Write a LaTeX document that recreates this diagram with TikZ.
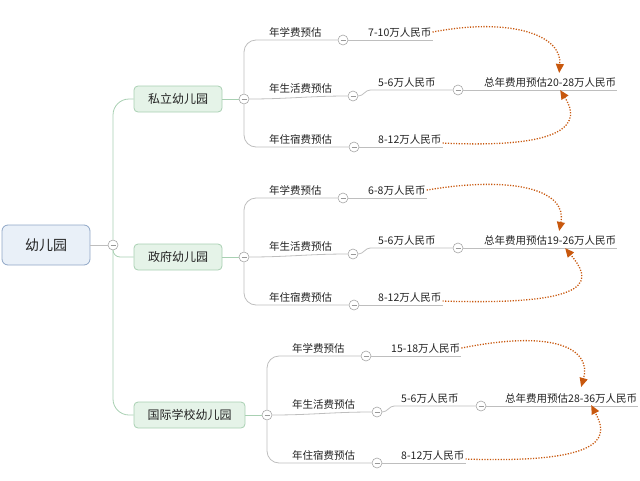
\documentclass[tikz,border=0pt]{standalone}
\usepackage{fontspec}
\setmainfont{Noto Sans CJK SC}
\usetikzlibrary{arrows.meta,positioning}
\definecolor{RootFill}{RGB}{233,240,248}
\definecolor{RootLine}{RGB}{143,166,198}
\definecolor{BranchFill}{RGB}{229,243,232}
\definecolor{BranchLine}{RGB}{168,208,178}
\definecolor{TwigGray}{RGB}{190,190,190}
\definecolor{LinkOrange}{RGB}{200,88,14}
\definecolor{TextGray}{RGB}{34,34,34}

\tikzset{
  rootbox/.style={draw=RootLine, fill=RootFill, rounded corners=6pt, line width=0.8pt,
    minimum width=88pt, minimum height=40pt, font=\fontsize{14}{16}\selectfont, text=TextGray},
  branchbox/.style={draw=BranchLine, fill=BranchFill, rounded corners=4pt, line width=0.8pt,
    minimum height=26pt, font=\fontsize{12}{14}\selectfont, text=TextGray},
  toggle/.style={circle, draw=gray!70, fill=white, inner sep=0pt, minimum size=10pt, line width=0.6pt,
    path picture={\draw[gray!80, line width=0.7pt]
      ([xshift=-2.5pt]path picture bounding box.center) -- ([xshift=2.5pt]path picture bounding box.center);}},
  leaf/.style={anchor=base west, inner sep=1pt, font=\fontsize{10.5}{12}\selectfont, text=TextGray},
  stem/.style={draw=BranchLine, line width=0.8pt, rounded corners=16pt},
  twig/.style={draw=TwigGray, line width=0.8pt, rounded corners=12pt},
  sumlink/.style={LinkOrange, line width=1.3pt, dash pattern=on 1.2pt off 1.5pt,
    -{Triangle[length=9pt,width=8pt]}}
}

\begin{document}
\begin{tikzpicture}[x=1pt, y=-1pt]
  \useasboundingbox (0,0) rectangle (640,480);

  % Root and first level
  \node[rootbox] (root) at (46,245) {幼儿园};
  \node[toggle] (t0) at (113,245) {};
  \draw[twig] (root.east) -- (t0.west);

  \node[branchbox, minimum width=88pt] (b1) at (178,99) {私立幼儿园};
  \node[branchbox, minimum width=88pt] (b2) at (178,257) {政府幼儿园};
  \node[branchbox, minimum width=111pt] (b3) at (189.5,415) {国际学校幼儿园};

  \draw[stem] (b1.west) -| (t0.north);
  \draw[stem, rounded corners=7pt] (t0.south) |- (b2.west);
  \draw[stem] (t0.south) |- (b3.west);

  % Private kindergarten
  \begin{scope}
    \node[toggle] (g1) at (244,99) {};
    \draw[stem, sharp corners] (b1.east) -- (g1.west);
    \node[leaf] (k11) at (268,36) {年学费预估};
    \node[leaf] (k12) at (268,92) {年生活费预估};
    \node[leaf] (k13) at (268,143) {年住宿费预估};
    \node[toggle] (p11) at (343,40) {};
    \node[toggle] (p12) at (353,96) {};
    \node[toggle] (p13) at (354,147) {};
    \node[leaf] (v11) at (367,36) {7-10万人民币};
    \node[leaf] (v12) at (377,86) {5-6万人民币};
    \node[leaf] (v13) at (377,143) {8-12万人民币};
    \node[toggle] (q12) at (458,90) {};
    \node[leaf] (s1) at (483,86) {总年费用预估20-28万人民币};

    \draw[twig] (g1.north) |- (p11.west);
    \draw[twig, sharp corners] (g1.east) to[out=0,in=180] (p12.west);
    \draw[twig] (g1.south) |- (p13.west);
    \draw[twig] (p11.east) -- (p11.east -| v11.east);
    \draw[twig, sharp corners] (p12.east) to[out=0,in=180] ++(12,-6) -- (q12.west);
    \draw[twig] (q12.east) -- (q12.east -| s1.east);
    \draw[twig] (p13.east) -- (p13.east -| v13.east);

    \draw[sumlink] (v11.east) .. controls +(78,-15) and +(3,-38) .. ([xshift=9pt,yshift=3pt]s1.north);
    \draw[sumlink] ([yshift=-4pt]v13.east) .. controls +(148,7) and +(14,22) .. ([xshift=10pt,yshift=-2pt]s1.south);
  \end{scope}

  % Government kindergarten
  \begin{scope}[shift={(0,158)}]
    \node[toggle] (g2) at (244,99) {};
    \draw[stem, sharp corners] (b2.east) -- (g2.west);
    \node[leaf] (k21) at (268,36) {年学费预估};
    \node[leaf] (k22) at (268,92) {年生活费预估};
    \node[leaf] (k23) at (268,143) {年住宿费预估};
    \node[toggle] (p21) at (343,40) {};
    \node[toggle] (p22) at (353,96) {};
    \node[toggle] (p23) at (354,147) {};
    \node[leaf] (v21) at (367,36) {6-8万人民币};
    \node[leaf] (v22) at (377,86) {5-6万人民币};
    \node[leaf] (v23) at (377,143) {8-12万人民币};
    \node[toggle] (q22) at (458,90) {};
    \node[leaf] (s2) at (483,86) {总年费用预估19-26万人民币};

    \draw[twig] (g2.north) |- (p21.west);
    \draw[twig, sharp corners] (g2.east) to[out=0,in=180] (p22.west);
    \draw[twig] (g2.south) |- (p23.west);
    \draw[twig] (p21.east) -- (p21.east -| v21.east);
    \draw[twig, sharp corners] (p22.east) to[out=0,in=180] ++(12,-6) -- (q22.west);
    \draw[twig] (q22.east) -- (q22.east -| s2.east);
    \draw[twig] (p23.east) -- (p23.east -| v23.east);

    \draw[sumlink] (v21.east) .. controls +(90,-15) and +(8,-40) .. ([xshift=9pt,yshift=3pt]s2.north);
    \draw[sumlink] ([yshift=-4pt]v23.east) .. controls +(160,5) and +(25,30) .. ([xshift=15pt,yshift=-2pt]s2.south);
  \end{scope}

  % International school kindergarten
  \begin{scope}[shift={(23,316)}]
    \node[toggle] (g3) at (244,99) {};
    \draw[stem, sharp corners] (b3.east) -- (g3.west);
    \node[leaf] (k31) at (268,36) {年学费预估};
    \node[leaf] (k32) at (268,92) {年生活费预估};
    \node[leaf] (k33) at (268,143) {年住宿费预估};
    \node[toggle] (p31) at (343,40) {};
    \node[toggle] (p32) at (354,96) {};
    \node[toggle] (p33) at (354,147) {};
    \node[leaf] (v31) at (367,36) {15-18万人民币};
    \node[leaf] (v32) at (377,86) {5-6万人民币};
    \node[leaf] (v33) at (377,143) {8-12万人民币};
    \node[toggle] (q32) at (458,90) {};
    \node[leaf] (s3) at (481,86) {总年费用预估28-36万人民币};

    \draw[twig] (g3.north) |- (p31.west);
    \draw[twig, sharp corners] (g3.east) to[out=0,in=180] (p32.west);
    \draw[twig] (g3.south) |- (p33.west);
    \draw[twig] (p31.east) -- (p31.east -| v31.east);
    \draw[twig, sharp corners] (p32.east) to[out=0,in=180] ++(12,-6) -- (q32.west);
    \draw[twig] (q32.east) -- (q32.east -| s3.east);
    \draw[twig] (p33.east) -- (p33.east -| v33.east);

    \draw[sumlink] (v31.east) .. controls +(100,-20) and +(10,-35) .. ([xshift=10pt,yshift=5pt]s3.north);
    \draw[sumlink] ([yshift=-4pt]v33.east) .. controls +(150,5) and +(15,28) .. ([xshift=20pt,yshift=-1pt]s3.south);
  \end{scope}
\end{tikzpicture}
\end{document}
